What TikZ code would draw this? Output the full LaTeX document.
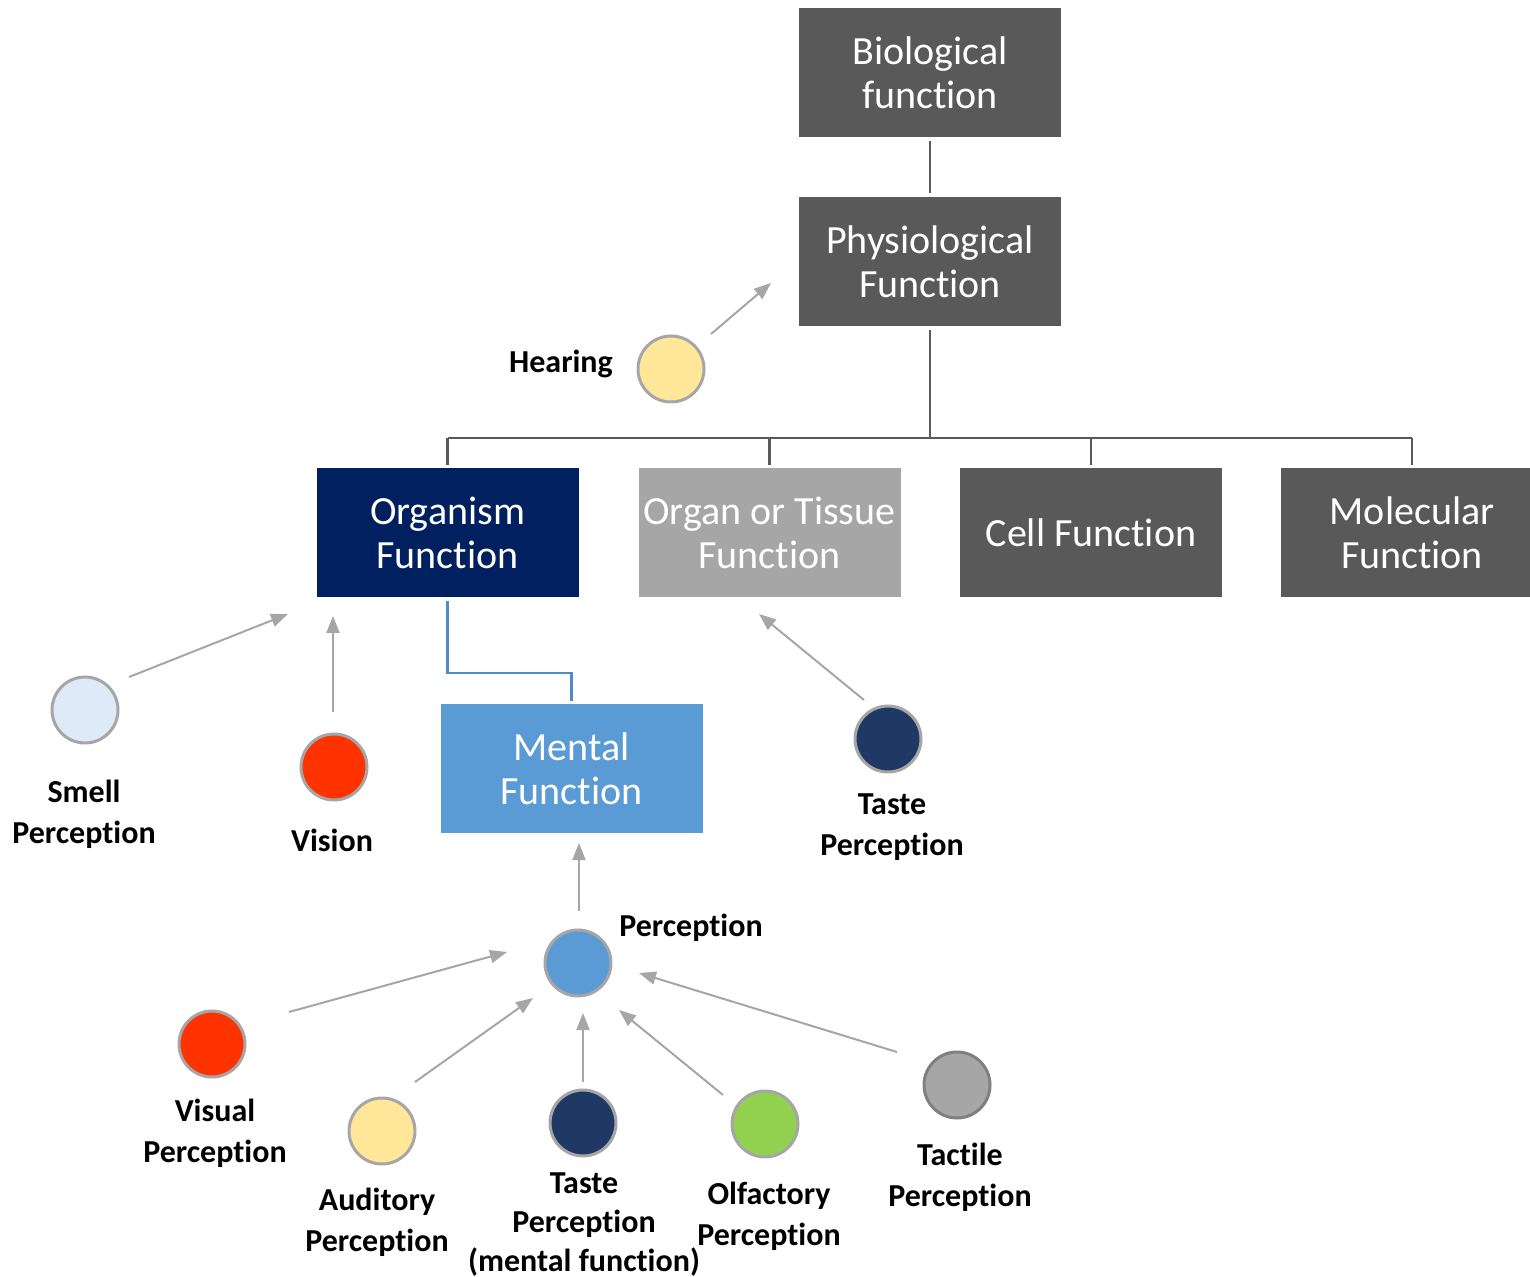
\documentclass[tikz,border=0pt]{standalone}
\usepackage{fontspec}
\setmainfont{Carlito}[RawFeature={-liga;-clig;-calt;-dlig}]
\usetikzlibrary{arrows.meta}
\definecolor{dgray}{HTML}{595959}
\definecolor{lgray}{HTML}{A6A6A6}
\definecolor{navy}{HTML}{002060}
\definecolor{mblue}{HTML}{5B9BD5}
\definecolor{lineblue}{HTML}{4F8BC9}
\definecolor{cyellow}{HTML}{FFE699}
\definecolor{clblue}{HTML}{DEEBF7}
\definecolor{cred}{HTML}{FF3300}
\definecolor{cnavy}{HTML}{1F3864}
\definecolor{cgreen}{HTML}{92D050}
\tikzset{
  box/.style={minimum width=131pt,minimum height=64.5pt,inner sep=0pt,align=center,text=white,font=\fontsize{20}{22}\selectfont},
  dot/.style={circle,minimum size=33pt,inner sep=0pt,draw=lgray,line width=1.5pt},
  lab/.style={align=center,font=\fontsize{16}{20.5}\selectfont\bfseries},
  tree/.style={draw=dgray,line width=1.2pt},
  arr/.style={draw=lgray,line width=1pt,-{Triangle[length=8.5pt,width=6.5pt]}}
}
\begin{document}
\begin{tikzpicture}[x=0.5pt,y=-0.5pt]
\useasboundingbox (0,0) rectangle (1530,1277);
% boxes
\node[box,fill=dgray] (bio) at (930,72.5) {Biological\\function};
\node[box,fill=dgray] (phys) at (930,261.5) {Physiological\\Function};
\node[box,fill=navy] (org) at (447.5,533) {Organism\\Function};
\node[box,fill=lgray] (organ) at (769.5,533) {Organ or Tissue\\Function};
\node[box,fill=dgray] (cell) at (1091,533) {Cell Function};
\node[box,fill=dgray] (mol) at (1412,533) {Molecular\\Function};
\node[box,fill=mblue] (ment) at (571.5,768.5) {Mental\\Function};
% tree connectors
\draw[tree] ([yshift=-2pt]bio.south) -- ([yshift=2pt]phys.north);
\coordinate (bar) at (930,438);
\draw[tree] ([yshift=-2pt]phys.south) -- (bar);
\draw[tree] (org.north |- bar) -- (mol.north |- bar);
\foreach \n in {org,organ,cell,mol}{
  \draw[tree] (\n.north |- bar) -- ([yshift=1.5pt]\n.north);
}
\coordinate (mj) at (447.5,673);
\draw[draw=lineblue,line width=1.4pt] ([yshift=-1.5pt]org.south) -- (mj) -- (571.5,673) -- ([yshift=1.5pt]ment.north);
% circles
\node[dot,fill=cyellow] (hear) at (671,369) {};
\node[lab] (hearl) at (561,364) {Hearing};
\node[dot,fill=clblue] (smell) at (85,710) {};
\node[lab] (smelll) at (84,814) {Smell\\Perception};
\node[dot,fill=cred] (vis) at (334,767) {};
\node[lab] (visl) at (332,840) {Vision};
\node[dot,fill=cnavy] (taste) at (888,739) {};
\node[lab] (tastel) at (892,827) {Taste\\Perception};
\node[dot,fill=mblue] (perc) at (578,963) {};
\node[lab] (percl) at (691,928) {Perception};
\node[dot,fill=cred] (visual) at (212,1044) {};
\node[lab] (visuall) at (215,1133) {Visual\\Perception};
\node[dot,fill=cyellow] (aud) at (382,1131) {};
\node[lab] (audl) at (377,1222) {Auditory\\Perception};
\node[dot,fill=cnavy] (tastem) at (583,1123) {};
\node[lab,font=\fontsize{16}{19.5}\selectfont\bfseries] (tastemlab) at (584,1225) {Taste\\Perception\\(mental function)};
\node[dot,fill=cgreen] (olf) at (765,1124) {};
\node[lab] (olfl) at (769,1216) {Olfactory\\Perception};
\node[dot,fill=lgray,draw=gray] (tact) at (957,1085) {};
\node[lab] (tactl) at (960,1177) {Tactile\\Perception};
% arrow coordinates
\coordinate (a1s) at (711,334); \coordinate (a1e) at (771,283);
\coordinate (a2s) at (129,677); \coordinate (a2e) at (288,614);
\coordinate (a3s) at (333,712); \coordinate (a3e) at (333,616);
\coordinate (a4s) at (864,700); \coordinate (a4e) at (759,614);
\coordinate (a5s) at (579,911); \coordinate (a5e) at (579,843);
\coordinate (a6s) at (289,1012); \coordinate (a6e) at (507,952);
\coordinate (a7s) at (415,1082); \coordinate (a7e) at (533,998);
\coordinate (a8s) at (583,1082); \coordinate (a8e) at (583,1013);
\coordinate (a9s) at (723,1095); \coordinate (a9e) at (619,1010);
\coordinate (a10s) at (897,1052); \coordinate (a10e) at (639,973);
\foreach \i in {1,...,10}{ \draw[arr] (a\i s) -- (a\i e); }
\end{tikzpicture}
\end{document}
